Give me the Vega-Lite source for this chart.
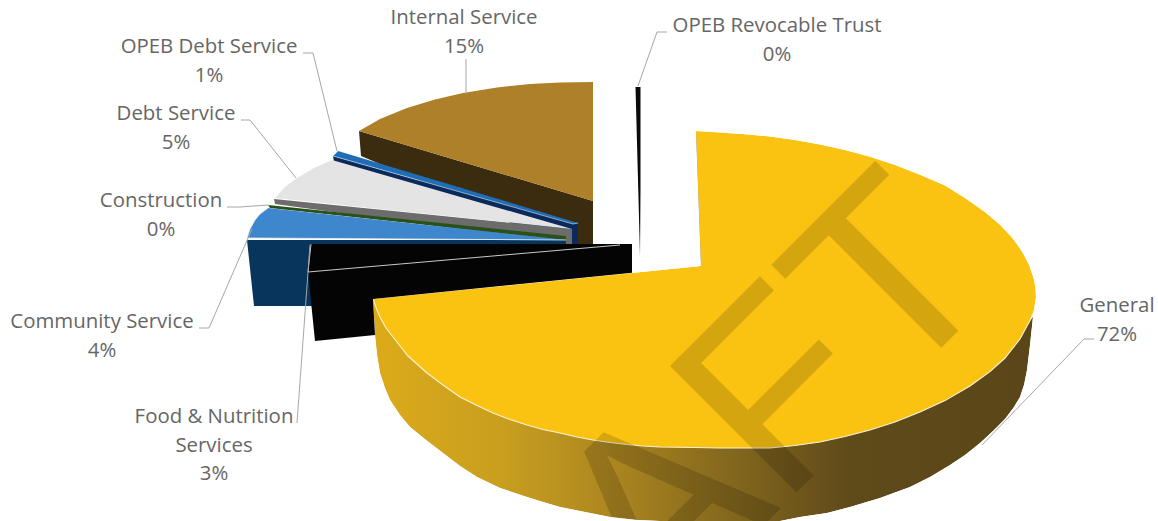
{
"$schema":"https://vega.github.io/schema/vega-lite/v6.json",
"width":1158,"height":521,"padding":0,"autosize":{"type":"none"},"background":"white",
"config":{"view":{"stroke":null}},
"datasets":{
"generalWall":[{"x":373,"y":299},{"x":375,"y":335},{"x":377,"y":355},{"x":380,"y":373},{"x":385,"y":388},{"x":390,"y":400},{"x":400,"y":415},{"x":410,"y":427},{"x":426,"y":440},{"x":443,"y":453},{"x":460,"y":466},{"x":477,"y":477},{"x":500,"y":488},{"x":527,"y":497},{"x":543,"y":502},{"x":560,"y":507},{"x":585,"y":512},{"x":610,"y":517},{"x":637,"y":520},{"x":660,"y":521},{"x":780,"y":521},{"x":800,"y":517},{"x":827,"y":513},{"x":850,"y":507},{"x":880,"y":498},{"x":910,"y":487},{"x":930,"y":477},{"x":950,"y":465},{"x":965,"y":455},{"x":980,"y":443},{"x":993,"y":431},{"x":1005,"y":419},{"x":1014,"y":407},{"x":1020,"y":397},{"x":1024,"y":385},{"x":1027,"y":370},{"x":1030,"y":345},{"x":1033,"y":317},{"x":990,"y":371},{"x":770,"y":447},{"x":480,"y":405}],
"generalInner":[{"x":697,"y":132},{"x":694,"y":141},{"x":699,"y":267},{"x":703,"y":267}],
"generalTop":[{"x":701,"y":266},{"x":373,"y":299},{"x":377,"y":310},{"x":380,"y":317},{"x":386,"y":328},{"x":393,"y":337},{"x":408,"y":356},{"x":427,"y":373},{"x":443,"y":385},{"x":460,"y":397},{"x":476,"y":405},{"x":493,"y":413},{"x":510,"y":419.5},{"x":527,"y":425},{"x":543,"y":429.5},{"x":560,"y":433},{"x":577,"y":437},{"x":593,"y":440},{"x":610,"y":442.5},{"x":627,"y":444.5},{"x":643,"y":446},{"x":660,"y":447},{"x":695,"y":447.5},{"x":720,"y":448},{"x":745,"y":448},{"x":770,"y":448},{"x":795,"y":445.5},{"x":820,"y":442},{"x":845,"y":436.5},{"x":870,"y":430},{"x":895,"y":422},{"x":920,"y":412},{"x":945,"y":400.6},{"x":970,"y":386},{"x":990,"y":371.6},{"x":1005,"y":358},{"x":1020,"y":339},{"x":1030,"y":320.4},{"x":1034,"y":310},{"x":1036,"y":297},{"x":1035.5,"y":288},{"x":1034,"y":279.6},{"x":1029,"y":264.7},{"x":1022,"y":251.4},{"x":1012,"y":237.5},{"x":1000,"y":224.8},{"x":985,"y":212},{"x":965,"y":198},{"x":945,"y":185.5},{"x":920,"y":174.8},{"x":895,"y":165},{"x":870,"y":156.8},{"x":845,"y":150},{"x":820,"y":144.6},{"x":795,"y":140},{"x":770,"y":136.6},{"x":745,"y":134.2},{"x":720,"y":132.6},{"x":696,"y":131},{"x":701,"y":266}],
"generalFrontEdge":[{"x":373,"y":299},{"x":377,"y":310},{"x":380,"y":317},{"x":386,"y":328},{"x":393,"y":337},{"x":408,"y":356},{"x":427,"y":373},{"x":443,"y":385},{"x":460,"y":397},{"x":476,"y":405},{"x":493,"y":413},{"x":510,"y":419.5},{"x":527,"y":425},{"x":543,"y":429.5},{"x":560,"y":433},{"x":577,"y":437},{"x":593,"y":440},{"x":610,"y":442.5},{"x":627,"y":444.5},{"x":643,"y":446},{"x":660,"y":447},{"x":695,"y":447.5},{"x":720,"y":448},{"x":745,"y":448},{"x":770,"y":448},{"x":795,"y":445.5},{"x":820,"y":442},{"x":845,"y":436.5},{"x":870,"y":430},{"x":895,"y":422},{"x":920,"y":412},{"x":945,"y":400.6},{"x":970,"y":386},{"x":990,"y":371.6},{"x":1005,"y":358},{"x":1020,"y":339},{"x":1030,"y":320.4},{"x":1033,"y":314}],
"surround":[{"x":696,"y":0},{"x":1158,"y":0},{"x":1158,"y":521},{"x":0,"y":521},{"x":0,"y":0},{"x":696,"y":0},{"x":696,"y":131},{"x":701,"y":266},{"x":373,"y":299},{"x":375,"y":335},{"x":377,"y":355},{"x":380,"y":373},{"x":385,"y":388},{"x":390,"y":400},{"x":400,"y":415},{"x":410,"y":427},{"x":426,"y":440},{"x":443,"y":453},{"x":460,"y":466},{"x":477,"y":477},{"x":500,"y":488},{"x":527,"y":497},{"x":543,"y":502},{"x":560,"y":507},{"x":585,"y":512},{"x":610,"y":517},{"x":637,"y":520},{"x":660,"y":521},{"x":780,"y":521},{"x":800,"y":517},{"x":827,"y":513},{"x":850,"y":507},{"x":880,"y":498},{"x":910,"y":487},{"x":930,"y":477},{"x":950,"y":465},{"x":965,"y":455},{"x":980,"y":443},{"x":993,"y":431},{"x":1005,"y":419},{"x":1014,"y":407},{"x":1020,"y":397},{"x":1024,"y":385},{"x":1027,"y":370},{"x":1030,"y":345},{"x":1033,"y":317},{"x":1034,"y":310},{"x":1036,"y":297},{"x":1035.5,"y":288},{"x":1034,"y":279.6},{"x":1029,"y":264.7},{"x":1022,"y":251.4},{"x":1012,"y":237.5},{"x":1000,"y":224.8},{"x":985,"y":212},{"x":965,"y":198},{"x":945,"y":185.5},{"x":920,"y":174.8},{"x":895,"y":165},{"x":870,"y":156.8},{"x":845,"y":150},{"x":820,"y":144.6},{"x":795,"y":140},{"x":770,"y":136.6},{"x":745,"y":134.2},{"x":720,"y":132.6},{"x":696,"y":131},{"x":696,"y":0}],
"internalWall":[{"x":359,"y":131},{"x":593,"y":201},{"x":593,"y":244},{"x":570,"y":244},{"x":361,"y":156}],
"internalTop":[{"x":359,"y":131},{"x":380,"y":119},{"x":407,"y":108},{"x":435,"y":99.5},{"x":463,"y":93},{"x":497,"y":87.5},{"x":530,"y":84},{"x":560,"y":82.5},{"x":593,"y":82},{"x":593,"y":201}],
"opebDebtWall":[{"x":333,"y":156},{"x":334,"y":162},{"x":572,"y":244},{"x":578,"y":244},{"x":578,"y":223},{"x":573,"y":224}],
"opebDebtTop":[{"x":338,"y":151},{"x":333,"y":156},{"x":573,"y":224},{"x":578,"y":223}],
"debtWall":[{"x":274,"y":199},{"x":275,"y":204},{"x":567,"y":244},{"x":572,"y":244},{"x":572,"y":229}],
"debtTop":[{"x":275,"y":198},{"x":285,"y":187},{"x":297,"y":178},{"x":314,"y":168},{"x":332,"y":160},{"x":572,"y":229}],
"constructionBand":[{"x":268,"y":205},{"x":270,"y":208},{"x":566,"y":240},{"x":566,"y":236}],
"communityWall":[{"x":247,"y":240},{"x":254,"y":306},{"x":315,"y":306},{"x":566,"y":244},{"x":566,"y":240}],
"communityTop":[{"x":268,"y":208},{"x":260,"y":214},{"x":255,"y":220},{"x":250,"y":229},{"x":247,"y":238},{"x":566,"y":240}],
"foodShape":[{"x":310,"y":244},{"x":632,"y":244},{"x":632,"y":272.7},{"x":373,"y":299},{"x":375,"y":335},{"x":315,"y":341},{"x":308,"y":272}],
"foodEdges":[{"x":311,"y":244},{"x":308,"y":272},{"x":620,"y":245}],
"revocableSliver":[{"x":635.5,"y":87},{"x":640.5,"y":87},{"x":640.5,"y":190},{"x":640,"y":256},{"x":638,"y":180}],
"leaders":[
{"fund":"General","x":1094,"y":339},{"fund":"General","x":1084,"y":339},{"fund":"General","x":982,"y":445},
{"fund":"Internal Service","x":466,"y":59},{"fund":"Internal Service","x":466,"y":94},
{"fund":"OPEB Revocable Trust","x":667,"y":32},{"fund":"OPEB Revocable Trust","x":657,"y":32},{"fund":"OPEB Revocable Trust","x":638,"y":86},
{"fund":"OPEB Debt Service","x":303,"y":53},{"fund":"OPEB Debt Service","x":313,"y":53},{"fund":"OPEB Debt Service","x":337,"y":151},
{"fund":"Debt Service","x":241,"y":120},{"fund":"Debt Service","x":250,"y":120},{"fund":"Debt Service","x":296,"y":178},
{"fund":"Construction","x":227,"y":207},{"fund":"Construction","x":240,"y":207},{"fund":"Construction","x":268,"y":205},
{"fund":"Community Service","x":199,"y":328},{"fund":"Community Service","x":209,"y":328},{"fund":"Community Service","x":252,"y":229},
{"fund":"Food & Nutrition Services","x":297,"y":423},{"fund":"Food & Nutrition Services","x":310,"y":245}
],
"labels":[
{"fund":"General","share":72,"label":"General\n72%","x":1117,"y":312},
{"fund":"Internal Service","share":15,"label":"Internal Service\n15%","x":464,"y":24},
{"fund":"OPEB Revocable Trust","share":0,"label":"OPEB Revocable Trust\n0%","x":777,"y":32},
{"fund":"OPEB Debt Service","share":1,"label":"OPEB Debt Service\n1%","x":209,"y":53},
{"fund":"Debt Service","share":5,"label":"Debt Service\n5%","x":176,"y":120},
{"fund":"Construction","share":0,"label":"Construction\n0%","x":161,"y":207},
{"fund":"Community Service","share":4,"label":"Community Service\n4%","x":102,"y":328},
{"fund":"Food & Nutrition Services","share":3,"label":"Food & Nutrition\nServices\n3%","x":214,"y":423}
],
"stamp":[{"word":"DRAFT","x":1006,"y":283}]
},
"encoding":{
"x":{"field":"x","type":"quantitative","axis":null,"scale":{"domain":[0,1158]}},
"y":{"field":"y","type":"quantitative","axis":null,"scale":{"domain":[521,0]}},
"order":{"value":null}
},
"layer":[
{"data":{"name":"generalWall"},"mark":{"type":"line","stroke":null,"fill":{"gradient":"linear","x1":0,"y1":0,"x2":1,"y2":0,"stops":[{"offset":0,"color":"#DCAB1A"},{"offset":0.2,"color":"#C89E1F"},{"offset":0.35,"color":"#AE8820"},{"offset":0.5,"color":"#8C6E1E"},{"offset":0.72,"color":"#5F4A1A"},{"offset":1,"color":"#5A4618"}]}}},
{"data":{"name":"generalInner"},"mark":{"type":"line","stroke":null,"fill":"#6E5518"}},
{"data":{"name":"generalTop"},"mark":{"type":"line","stroke":null,"fill":"#FBC311"}},
{"data":{"name":"generalFrontEdge"},"mark":{"type":"line","stroke":"#FBF3D8","strokeWidth":1.1}},
{"data":{"name":"stamp"},"mark":{"type":"text","font":"Liberation Sans","fontSize":260,"angle":315,"align":"right","baseline":"alphabetic","fill":"#000000","opacity":0.15},"encoding":{"text":{"field":"word"}}},
{"data":{"name":"surround"},"mark":{"type":"line","stroke":null,"fill":"#FFFFFF"}},
{"data":{"name":"internalWall"},"mark":{"type":"line","stroke":null,"fill":"#3B2C0F"}},
{"data":{"name":"internalTop"},"mark":{"type":"line","stroke":null,"fill":"#AD8029"}},
{"data":{"name":"opebDebtWall"},"mark":{"type":"line","stroke":null,"fill":"#0B2A5C"}},
{"data":{"name":"opebDebtTop"},"mark":{"type":"line","stroke":"#DCE8F2","strokeWidth":0.6,"fill":"#1F6EB5"}},
{"data":{"name":"debtWall"},"mark":{"type":"line","stroke":null,"fill":"#6C6C6C"}},
{"data":{"name":"debtTop"},"mark":{"type":"line","stroke":null,"fill":"#E5E4E4"}},
{"data":{"name":"constructionBand"},"mark":{"type":"line","stroke":null,"fill":"#2A5218"}},
{"data":{"name":"communityWall"},"mark":{"type":"line","stroke":null,"fill":"#08355C"}},
{"data":{"name":"communityTop"},"mark":{"type":"line","stroke":"#E8F0F8","strokeWidth":0.8,"fill":"#3F87CC"}},
{"data":{"name":"foodShape"},"mark":{"type":"line","stroke":null,"fill":"#040404"}},
{"data":{"name":"foodEdges"},"mark":{"type":"line","stroke":"#C8C8C8","strokeWidth":1}},
{"data":{"name":"revocableSliver"},"mark":{"type":"line","stroke":null,"fill":"#0A0A0A"}},
{"data":{"name":"leaders"},"mark":{"type":"line","stroke":"#A6A6A6","strokeWidth":1},"encoding":{"detail":{"field":"fund"}}},
{"data":{"name":"labels"},"mark":{"type":"text","font":"Open Sans","fontSize":20.4,"lineBreak":"\n","lineHeight":28.5,"align":"center","baseline":"alphabetic","fill":"#666666"},"encoding":{"text":{"field":"label"}}}
]
}
